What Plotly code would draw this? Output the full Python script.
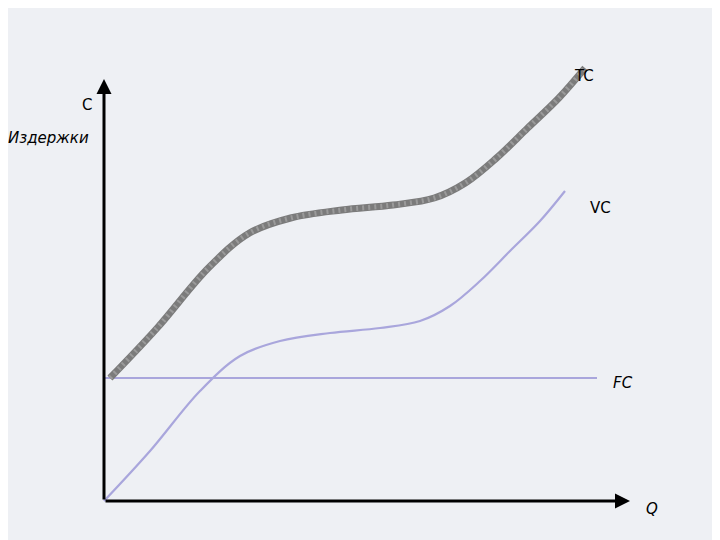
import plotly.graph_objects as go

Q = [0, 46, 96, 136, 176, 226, 276, 316, 346, 376, 406, 436, 461]
VC = [0, 50, 110, 145, 160, 168, 173, 180, 195, 220, 250, 280, 310]
FC_LEVEL = 123
FC_Q = [0, 493]
TC = [v + FC_LEVEL for v in VC]
TC_Q = [q + 6 + 14 * i / (len(Q) - 1) for i, q in enumerate(Q)]

fig = go.Figure()
fig.add_trace(go.Scatter(x=FC_Q, y=[FC_LEVEL, FC_LEVEL], mode="lines",
                         line=dict(color="#a9a6dc", width=2.2)))
fig.add_trace(go.Scatter(x=Q, y=VC, mode="lines", line_shape="spline",
                         line=dict(color="#a9a6dc", width=2.2)))
fig.add_trace(go.Scatter(x=TC_Q, y=TC, mode="lines", line_shape="spline",
                         line=dict(color="#7b7b7b", width=7)))
fig.add_trace(go.Scatter(x=TC_Q, y=TC, mode="lines", line_shape="spline",
                         line=dict(color="#9a9a9a", width=5, dash="2px,4px")))

fig.add_annotation(x=0, y=422, ax=0, ay=0, xref="x", yref="y", axref="x", ayref="y",
                   showarrow=True, arrowhead=2, arrowwidth=3, arrowcolor="black", text="")
fig.add_annotation(x=526, y=0, ax=0, ay=0, xref="x", yref="y", axref="x", ayref="y",
                   showarrow=True, arrowhead=2, arrowwidth=3, arrowcolor="black", text="")

font = dict(family="DejaVu Sans", size=15, color="black")
labels = [("TC", 468, 425), ("VC", 484, 293), ("<i>FC</i>", 507, 118), ("<i>Q</i>", 540, -8),
          ("C", -24, 396)]
for t, x, y in labels:
    fig.add_annotation(x=x, y=y, text=t, showarrow=False, xref="x", yref="y",
                       font=font, xanchor="left")
fig.add_annotation(x=-56, y=363, text="<i>Издержки</i>", showarrow=False, xref="x",
                   yref="y", font=font)

fig.update_layout(width=720, height=540, margin=dict(l=0, r=0, t=0, b=0),
                  paper_bgcolor="#eef0f4", plot_bgcolor="#eef0f4", showlegend=False,
                  xaxis=dict(range=[-96, 624], visible=False),
                  yaxis=dict(range=[-47, 493], visible=False))
fig.write_html("out.html")
